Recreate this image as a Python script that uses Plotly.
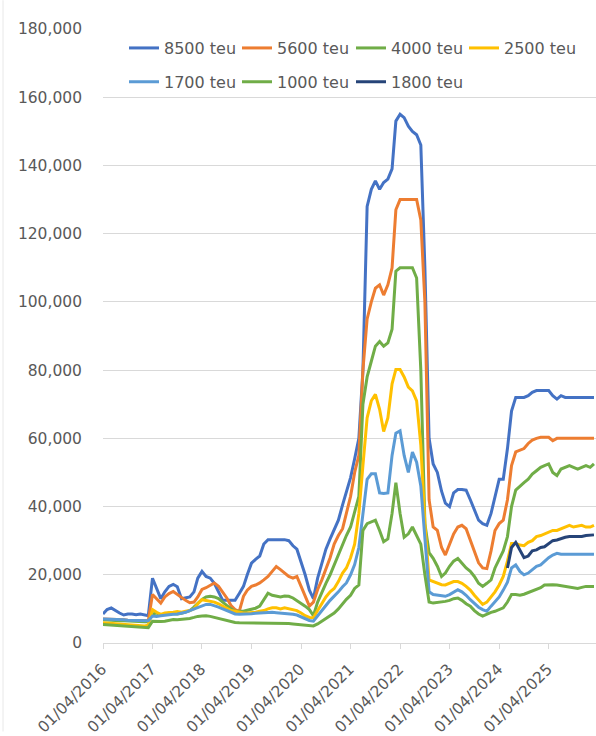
import pandas as pd
import plotly.graph_objects as go

months = pd.date_range("2016-04-01", periods=120, freq="MS")

v8500 = [8500, 9800, 10300, 9500, 8800, 8200, 8500, 8500, 8300, 8500, 8300, 8000,
         19000, 16000, 13000, 15000, 16600, 17200, 16500, 13000, 13200, 13500, 15000, 19000,
         21000, 19500, 19000, 17500, 15000, 12500, 12500, 12500, 12500, 14500, 16600, 20000,
         23400, 24500, 25500, 29000, 30300, 30300, 30300, 30300, 30300, 30000, 28500, 27500,
         24000, 20000, 15500, 13000, 19000, 23500, 27500, 30500, 33000, 36000, 40500, 44500,
         48500, 54000, 60000, 80000, 128000, 133000, 135500, 133000, 135000, 136000, 139000, 153000,
         155000, 154000, 151500, 150000, 149000, 146000, 110000, 60000, 52500, 50000, 44500, 41000,
         40000, 44000, 45000, 45000, 44800, 42000, 39000, 36000, 35000, 34500, 38000, 43000,
         48000, 48000, 57000, 68000, 72000, 72000, 72000, 72500, 73500, 74000, 74000, 74000,
         74000, 72500, 71500, 72500, 72000, 72000, 72000, 72000, 72000, 72000, 72000, 72000]

v5600 = [7000, 7000, 6900, 6900, 6800, 6800, 6700, 6700, 6600, 6600, 6500, 6500,
         14200, 13000, 11700, 13500, 14500, 15100, 14200, 13200, 12500, 11800, 12000, 13500,
         15700, 16200, 17000, 17600, 16600, 15000, 13200, 11000, 9800, 9300, 13700, 15500,
         16600, 17000, 17600, 18500, 19500, 21000, 22400, 21500, 20500, 19500, 19000, 19500,
         16600, 13500, 10800, 12000, 15700, 18500, 21500, 25000, 29000, 31500, 33500, 38000,
         43000, 50000, 55000, 80000, 95000, 100000, 104000, 105000, 102000, 105000, 110000, 127000,
         130000, 130000, 130000, 130000, 130000, 124000, 100000, 42000, 34000, 33000, 28000, 25800,
         29000, 32000, 34000, 34500, 33500, 30000, 27000, 23500, 22000, 21800, 27000, 33000,
         35000, 36000, 42000, 52000, 56000, 56500, 57000, 58500, 59500, 60000, 60300, 60300,
         60300, 59300, 60000, 60000, 60000, 60000, 60000, 60000, 60000, 60000, 60000, 60000]

v4000 = [6800, 6700, 6600, 6600, 6500, 6500, 6400, 6400, 6300, 6300, 6200, 6200,
         8500, 8800, 8200, 8500, 8800, 8600, 8500, 8700, 9000, 9500, 10500, 11500,
         12800, 13500, 13700, 13500, 13000, 12000, 11000, 10000, 9300, 9200, 9300, 9600,
         9900, 10200, 10800, 12500, 14600, 14000, 13700, 13500, 13800, 13700, 13200, 12500,
         11700, 10800, 9800, 8000, 12000, 15000, 17500, 20000, 23000, 26000, 29000, 31500,
         34000, 38500, 43000, 70000, 78000, 82600, 87000, 88400, 87000, 88000, 92000, 109000,
         110000, 110000, 110000, 110000, 107000, 80000, 35000, 26500, 24800, 22500, 19500, 20500,
         22500, 24000, 24800, 23500, 22000, 21000, 19500, 17500, 16600, 17500, 18500, 22000,
         24400, 27000, 31200, 40000, 44800, 46000, 47000, 48000, 49500, 50500, 51500, 52000,
         52500, 50000, 49100, 51000, 51500, 52000, 51500, 51000, 51500, 52000, 51500, 52500]

v2500 = [5900, 5800, 5700, 5600, 5500, 5400, 5300, 5200, 5100, 5000, 5000, 5200,
         9800, 9000, 8400, 8800, 8800, 9000, 9200, 9000, 9300, 9500, 10000, 11500,
         12700, 12500, 12200, 12000, 11500, 10800, 10000, 9500, 9300, 9000, 8800, 8800,
         8800, 9000, 9300, 9500, 10000, 10300, 10300, 10000, 10300, 10000, 9800, 9500,
         8800, 8000, 7500, 7400, 9500, 11700, 13500, 15000, 16000, 18000, 20500, 22000,
         25000, 29000, 38000, 52000, 66000, 71000, 72900, 68500, 62000, 66000, 76000, 80200,
         80200, 78000, 75000, 73900, 71000, 58000, 35000, 18500, 18000, 17500, 17100, 17000,
         17500, 18000, 18000, 17500, 16600, 15500, 14000, 12500, 11300, 12000, 13500, 15000,
         17000, 19500, 24000, 29200, 29200, 28700, 28500, 29500, 30000, 31200, 31500, 32000,
         32500, 33000, 33000, 33500, 34000, 34500, 34000, 34200, 34500, 34000, 34000, 34500]

v1700 = [7000, 7000, 6900, 6900, 6800, 6800, 6700, 6700, 6600, 6600, 6500, 6500,
         7900, 7800, 8000, 8200, 8400, 8400, 8500, 8700, 9000, 9500, 10000, 10500,
         11000, 11300, 11300, 11000, 10500, 10000, 9500, 9000, 8500, 8400, 8400, 8500,
         8600, 8700, 8800, 8900, 9000, 9000, 8900, 8800, 8800, 8600, 8400, 8200,
         7600, 7000, 6600, 6400, 8000, 9800, 11000, 12500, 13700, 15000, 16500, 17600,
         20000, 23000, 28000, 38000, 48000, 49600, 49600, 44000, 43800, 44000, 55000, 61500,
         62200, 55000, 50000, 56000, 53000, 46000, 30000, 15000, 14200, 14000, 13800, 13700,
         14200, 15000, 15600, 15000, 14000, 12700, 11500, 10500, 9800, 9300, 10800, 12200,
         13500, 15500, 17800, 22000, 22900, 21000, 20000, 20500, 21500, 22500, 22900, 24000,
         25000, 25800, 26300, 26000, 26000, 26000, 26000, 26000, 26000, 26000, 26000, 26000]

v1000 = [5400, 5300, 5200, 5100, 5000, 4900, 4800, 4700, 4600, 4500, 4500, 4500,
         6400, 6300, 6300, 6400, 6600, 6900, 6800, 6900, 7000, 7200, 7500, 7800,
         7900, 8000, 7800, 7500, 7200, 6800, 6400, 6200, 6000, 5900, 5900, 5900,
         5900, 5900, 5900, 5900, 5900, 5900, 5900, 5900, 5800, 5700, 5600, 5500,
         5400, 5300, 5000, 5000, 5600, 6400, 7200, 8000, 8800, 10000, 11500, 12800,
         14000, 16000, 17000, 33000, 35000, 35500, 36000, 33000, 29700, 30500, 38000, 47000,
         38000, 31000, 32000, 34000, 31500, 29000, 20000, 12000, 11700, 11800, 12000, 12200,
         12500, 13000, 13200, 12500, 11500, 10800, 9500, 8500, 7900, 8500, 9000, 9300,
         9800, 10300, 12000, 14200, 14200, 14000, 14300, 14800, 15200, 15600, 16200, 17000,
         17100, 17100, 17000, 16800, 16500, 16200, 16100, 16000, 16300, 16600, 16600, 16600]

v1800 = [None] * 98 + [22000, 28000, 29500, 27000, 25000, 25500, 27000, 27300, 28000, 28200,
                       29000, 30000, 30200, 30700, 31000, 31200, 31200, 31000, 31200, 31500,
                       31500, 31700]

series_names = ["8500 teu", "5600 teu", "4000 teu", "2500 teu", "1700 teu", "1000 teu", "1800 teu"]
series_values = [v8500, v5600, v4000, v2500, v1700, v1000, v1800]
series_colors = ["#4472C4", "#ED7D31", "#70AD47", "#FFC000", "#5B9BD5", "#70AD47", "#264478"]

FONT = "DejaVu Sans"
GREY = "#595959"
GRID = "#D9D9D9"

FIG_W, FIG_H = 596, 736
M_L, M_R, M_T, M_B = 103, 0, 29, 89
PLOT_W = FIG_W - M_L - M_R
PLOT_H = FIG_H - M_T - M_B

# legend slot for each entry: (left px of legend box from plot left, row centre in paper y)
legend_slots = [(21, 0.969), (134, 0.969), (248, 0.969), (361, 0.969),
                (21, 0.914), (134, 0.914), (248, 0.914)]

fig = go.Figure()
legend_layouts = {}
for k, (name, vals, color) in enumerate(zip(series_names, series_values, series_colors)):
    leg = "legend" if k == 0 else f"legend{k + 1}"
    fig.add_trace(go.Scatter(x=months, y=vals, name=name, mode="lines",
                             line=dict(color=color, width=3), legend=leg,
                             connectgaps=False))
    off_px, ypos = legend_slots[k]
    legend_layouts[leg] = dict(
        x=off_px / PLOT_W, y=ypos, xanchor="left", yanchor="middle",
        orientation="h", font=dict(family=FONT, size=16, color=GREY),
        bgcolor="rgba(0,0,0,0)", itemwidth=30)

fig.update_layout(
    width=FIG_W, height=FIG_H,
    margin=dict(l=M_L, r=M_R, t=M_T, b=M_B, pad=0),
    paper_bgcolor="white", plot_bgcolor="white",
    showlegend=True,
    xaxis=dict(type="date", range=["2016-04-01", "2026-03-16"],
               tick0="2016-04-01", dtick="M12", tickformat="%d/%m/%Y",
               tickangle=-45, ticks="outside", ticklen=5, tickcolor=GRID,
               showgrid=False, showline=True, linecolor=GRID, linewidth=1,
               zeroline=False, ticklabelshift=-1, ticklabelstandoff=5,
               tickfont=dict(family=FONT, size=15.5, color=GREY)),
    yaxis=dict(range=[0, 180000], dtick=20000, tickformat=",d",
               showgrid=True, gridcolor=GRID, gridwidth=1.3,
               zeroline=False, showline=False, ticks="",
               ticklabelstandoff=20,
               tickfont=dict(family=FONT, size=15.5, color=GREY)),
    **legend_layouts,
)

# faint chart-area border near the left edge of the picture
fig.add_shape(type="line", xref="paper", yref="paper",
              x0=(3 - M_L) / PLOT_W, x1=(3 - M_L) / PLOT_W,
              y0=-M_B / PLOT_H, y1=(PLOT_H + M_T) / PLOT_H,
              line=dict(color="#E8E8E8", width=1))

# remove the default 8px page margin so the figure fills the window exactly
fig.write_html("out.html",
               config={"displayModeBar": False},
               post_script="document.body.style.margin='0';"
                           "document.documentElement.style.overflow='hidden';")
